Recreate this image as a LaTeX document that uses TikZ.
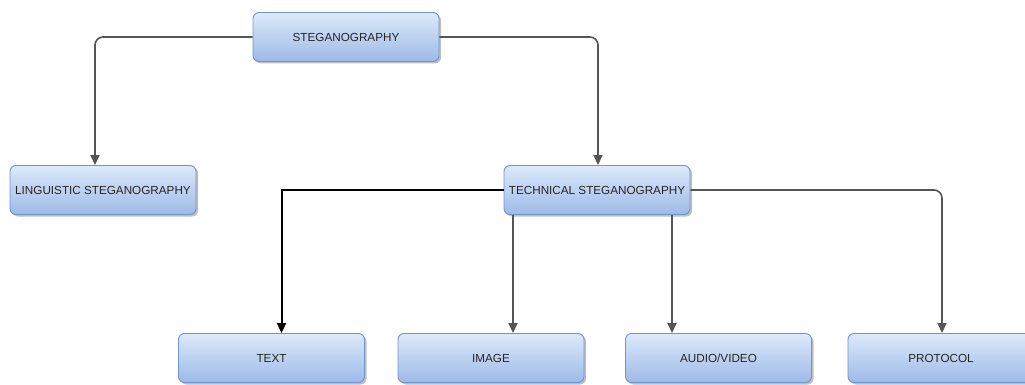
\documentclass[tikz,border=0pt]{standalone}
\usepackage{fontspec}
\setmainfont{Liberation Sans}
\usetikzlibrary{arrows.meta,shadows}
\definecolor{boxtop}{HTML}{DCE9FB}
\definecolor{boxbot}{HTML}{9DBAE6}
\definecolor{boxedge}{HTML}{7094CC}
\definecolor{wire}{HTML}{555555}
\definecolor{ink}{HTML}{262626}
\tikzset{
  sbox/.style={rounded corners=6pt,top color=boxtop,bottom color=boxbot,draw=boxedge,line width=0.9pt,
    minimum width=186pt,minimum height=49pt,inner sep=0pt,font=\fontsize{11.7}{14}\selectfont,text=ink,
    drop shadow={shadow xshift=2pt,shadow yshift=-2pt,opacity=0.25,fill=black}},
  link/.style={-{Triangle[length=10pt,width=9pt]},wire,line width=1.6pt,rounded corners=8pt},
}
\begin{document}
\begin{tikzpicture}[x=1pt,y=-1pt]
\useasboundingbox (0,0) rectangle (1025,385);
\node[sbox] (steg)  at (346,37)    {STEGANOGRAPHY};
\node[sbox] (ling)  at (103,190)   {LINGUISTIC STEGANOGRAPHY};
\node[sbox] (tech)  at (597,190)   {TECHNICAL STEGANOGRAPHY};
\node[sbox] (txt)   at (271.5,358) {TEXT};
\node[sbox] (img)   at (491,358)   {IMAGE};
\node[sbox] (av)    at (718.5,358) {AUDIO/VIDEO};
\node[sbox] (proto) at (941,358)   {PROTOCOL};
\draw[link] (steg.west) -| ([xshift=-8pt]ling.north);
\draw[link] (steg.east) -| ([xshift=1pt]tech.north);
\draw[link,black,line width=2pt,rounded corners=0pt] (tech.west) -| ([xshift=10pt]txt.north);
\draw[link] ([xshift=-84pt]tech.south) -- ([xshift=22pt]img.north);
\draw[link] ([xshift=75pt]tech.south) -- ([xshift=-46.5pt]av.north);
\draw[link] (tech.east) -| ([xshift=1pt]proto.north);
\end{tikzpicture}
\end{document}
